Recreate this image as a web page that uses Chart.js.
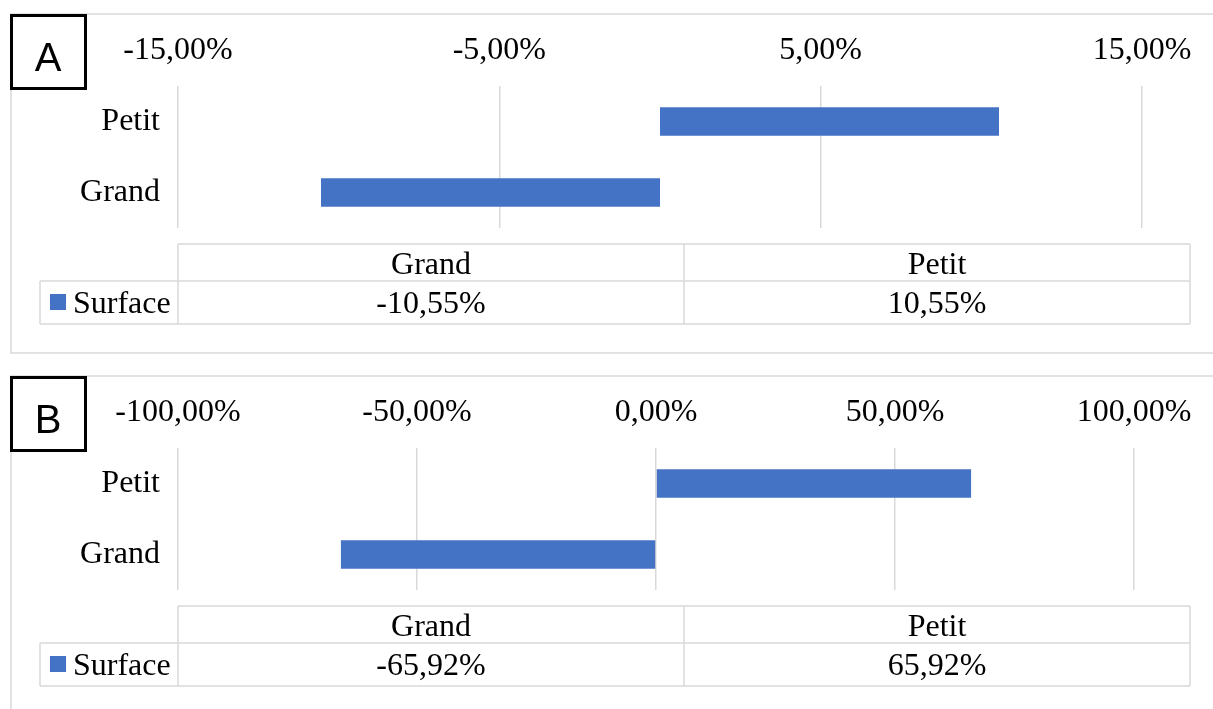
<!DOCTYPE html>
<html lang="fr">
<head>
    <meta charset="UTF-8">
    <title>Surface</title>
    <script src="https://cdn.jsdelivr.net/npm/chart.js"></script>
    <style>
        html, body {
            margin: 0;
            padding: 0;
            background: #fff;
        }
        .panel {
            position: absolute;
            left: 0;
            width: 1213px;
        }
        #panelA { top: 0; height: 362px; }
        #panelB { top: 362px; height: 347px; }
    </style>
</head>
<body>
    <div class="panel" id="panelA"><canvas id="chartA"></canvas></div>
    <div class="panel" id="panelB"><canvas id="chartB"></canvas></div>

    <script>
        // données
        const categories = ['Grand', 'Petit'];
        const seriesName = 'Surface';
        const surfaceA = [-10.55, 10.55];
        const surfaceB = [-65.92, 65.92];
        const axisA = { min: -15, max: 15, step: 10 };
        const axisB = { min: -100, max: 100, step: 50 };

        const BLUE = '#4472C4';
        const LINE = '#d9d9d9';
        const SERIF = '"Liberation Serif", "Times New Roman", serif';

        function pct(v) {
            return v.toFixed(2).replace('.', ',') + '%';
        }

        // cadre, lettre du panneau et tableau de données sous le graphique
        const panelDecor = {
            id: 'panelDecor',
            afterDraw(chart, args, opts) {
                const ctx = chart.ctx;
                const area = chart.chartArea;
                const W = chart.width;
                ctx.save();

                ctx.strokeStyle = LINE;
                ctx.lineWidth = 1.5;
                ctx.beginPath();
                ctx.moveTo(W, 14);
                ctx.lineTo(11, 14);
                ctx.lineTo(11, 353);
                ctx.lineTo(W, 353);
                ctx.stroke();

                // tableau
                const labels = chart.data.labels;
                const values = chart.data.datasets[0].data;
                const left = area.left, right = W - 23, keyLeft = 40;
                const y0 = area.bottom + 16, y1 = y0 + 37, y2 = y1 + 43;
                const colW = (right - left) / labels.length;

                ctx.beginPath();
                ctx.moveTo(left, y0); ctx.lineTo(right, y0);
                ctx.moveTo(keyLeft, y1); ctx.lineTo(right, y1);
                ctx.moveTo(keyLeft, y2); ctx.lineTo(right, y2);
                ctx.moveTo(keyLeft, y1); ctx.lineTo(keyLeft, y2);
                for (let i = 0; i <= labels.length; i++) {
                    const x = left + i * colW;
                    ctx.moveTo(x, y0);
                    ctx.lineTo(x, y2);
                }
                ctx.stroke();

                ctx.fillStyle = '#000';
                ctx.font = '32px ' + SERIF;
                ctx.textAlign = 'center';
                ctx.textBaseline = 'middle';
                labels.forEach((lab, i) => {
                    const cx = left + (i + 0.5) * colW;
                    ctx.fillText(lab, cx, (y0 + y1) / 2 + 3);
                    ctx.fillText(pct(values[i]), cx, (y1 + y2) / 2 + 2);
                });

                ctx.fillStyle = BLUE;
                ctx.fillRect(50, y1 + 13, 16, 16);
                ctx.fillStyle = '#000';
                ctx.textAlign = 'left';
                ctx.fillText(chart.data.datasets[0].label, 73, (y1 + y2) / 2 + 2);

                // lettre
                ctx.fillStyle = '#fff';
                ctx.fillRect(10, 14, 77, 76);
                ctx.strokeStyle = '#000';
                ctx.lineWidth = 3;
                ctx.strokeRect(11.5, 15.5, 74, 73);
                ctx.fillStyle = '#000';
                ctx.font = '40px "Liberation Sans", Arial, sans-serif';
                ctx.textAlign = 'center';
                ctx.textBaseline = 'alphabetic';
                ctx.fillText(opts.letter, 48, 71);

                ctx.restore();
            }
        };

        function makePanel(id, letter, values, range, padRight, padBottom) {
            return new Chart(document.getElementById(id), {
                type: 'bar',
                data: {
                    labels: categories,
                    datasets: [{
                        label: seriesName,
                        data: values,
                        backgroundColor: BLUE,
                        barPercentage: 0.4,
                        categoryPercentage: 1
                    }]
                },
                options: {
                    indexAxis: 'y',
                    responsive: true,
                    maintainAspectRatio: false,
                    animation: false,
                    layout: { padding: { top: 0, left: 0, right: padRight, bottom: padBottom } },
                    plugins: {
                        legend: { display: false },
                        tooltip: { enabled: false },
                        panelDecor: { letter: letter }
                    },
                    scales: {
                        x: {
                            position: 'top',
                            min: range.min,
                            max: range.max,
                            ticks: {
                                stepSize: range.step,
                                callback: v => pct(v),
                                padding: 16,
                                color: '#000',
                                font: { family: SERIF, size: 32 },
                                maxRotation: 0,
                                autoSkip: false
                            },
                            grid: { color: LINE, lineWidth: 1.5, drawTicks: false },
                            border: { display: false },
                            afterFit: s => { s.height = 86; }
                        },
                        y: {
                            reverse: true,
                            grid: { display: false },
                            border: { display: false },
                            ticks: {
                                padding: 10,
                                color: '#000',
                                font: { family: SERIF, size: 32 }
                            },
                            afterFit: s => { s.width = 178; }
                        }
                    }
                },
                plugins: [panelDecor]
            });
        }

        makePanel('chartA', 'A', surfaceA, axisA, 71, 134);
        makePanel('chartB', 'B', surfaceB, axisB, 79, 119);
    </script>
</body>
</html>
